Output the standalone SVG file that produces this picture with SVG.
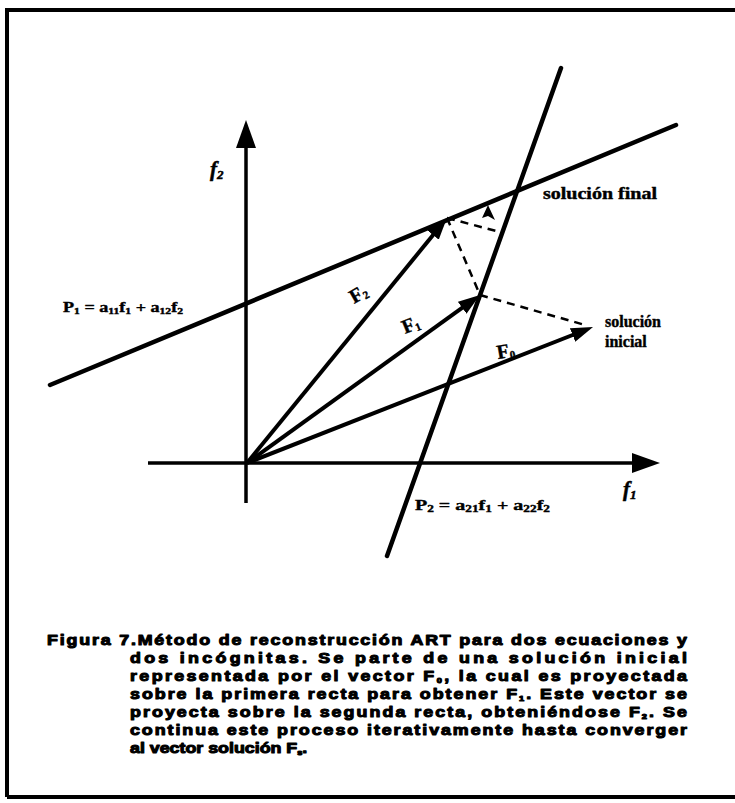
<svg xmlns="http://www.w3.org/2000/svg" width="735" height="803" viewBox="0 0 735 803">
<defs>
<marker id="ah" viewBox="0 0 12 8" refX="6" refY="4" markerWidth="5.5" markerHeight="3.7" markerUnits="strokeWidth" orient="auto">
<path d="M0,0 L12,4 L0,8 Z" fill="#000"/>
</marker>
</defs>
<style>
.ln{stroke:#000;stroke-width:4.5;fill:none;stroke-linecap:round}
.ax{stroke:#000;stroke-width:3.5;fill:none}
.vec{stroke:#000;stroke-width:4;fill:none}
.dash{stroke:#000;stroke-width:2.5;fill:none;stroke-dasharray:8 6}
.lbl{font-family:"Liberation Serif",serif;font-weight:bold;fill:#000;stroke:#000;stroke-width:0.4}
.ital{font-family:"Liberation Serif",serif;font-weight:bold;font-style:italic;fill:#000;stroke:#000;stroke-width:0.5}
.cap{font-family:"Liberation Sans",Arial,sans-serif;font-weight:bold;font-size:15.5px;fill:#000;stroke:#000;stroke-width:1.1;stroke-linejoin:round}
</style>
<rect width="735" height="803" fill="#fff"/>
<g id="frame">
<path d="M7,797 V10 H735" stroke="#000" stroke-width="4" fill="none"/>
<path d="M7,797 H735" stroke="#000" stroke-width="4" fill="none"/>
</g>
<g id="axes">
<line class="ax" x1="246" y1="503" x2="246" y2="146"/>
<polygon points="246,120 236,148 256,148" fill="#000"/>
<line class="ax" x1="148" y1="463" x2="634" y2="463"/>
<polygon points="660,463 632,453 632,473" fill="#000"/>
<text class="ital" x="210" y="176" font-size="21">f<tspan font-size="13" dy="3">2</tspan></text>
<text class="ital" x="623" y="496" font-size="21">f<tspan font-size="13" dy="3">1</tspan></text>
</g>
<g id="connectors">
<line class="ln" x1="50" y1="385" x2="676" y2="125"/>
<line class="ln" x1="387" y1="556" x2="561" y2="68"/>
<line class="vec" x1="247" y1="463" x2="582.8" y2="331" marker-end="url(#ah)"/>
<line class="vec" x1="247" y1="463" x2="471.1" y2="301.4" marker-end="url(#ah)"/>
<line class="vec" x1="247" y1="463" x2="440" y2="226.5" marker-end="url(#ah)"/>
<line class="dash" x1="480" y1="295" x2="585" y2="325"/>
<line class="dash" x1="447" y1="218" x2="480" y2="295"/>
<line class="dash" x1="447" y1="218" x2="500" y2="232"/>
<polygon points="488,205 482,218 488,216 495,220" fill="#000"/>
</g>
<g id="labels">
<text class="lbl" x="63" y="312" font-size="14" textLength="120" lengthAdjust="spacingAndGlyphs">P<tspan font-size="9" dy="2">1</tspan><tspan dy="-2"> = a</tspan><tspan font-size="9" dy="2">11</tspan><tspan dy="-2">f</tspan><tspan font-size="9" dy="2">1</tspan><tspan dy="-2"> + a</tspan><tspan font-size="9" dy="2">12</tspan><tspan dy="-2">f</tspan><tspan font-size="9" dy="2">2</tspan></text>
<text class="lbl" x="415" y="510" font-size="15" textLength="135" lengthAdjust="spacingAndGlyphs">P<tspan font-size="10" dy="2">2</tspan><tspan dy="-2"> = a</tspan><tspan font-size="10" dy="2">21</tspan><tspan dy="-2">f</tspan><tspan font-size="10" dy="2">1</tspan><tspan dy="-2"> + a</tspan><tspan font-size="10" dy="2">22</tspan><tspan dy="-2">f</tspan><tspan font-size="10" dy="2">2</tspan></text>
<text class="lbl" x="543" y="199" font-size="16" textLength="114" lengthAdjust="spacingAndGlyphs">solución final</text>
<text class="lbl" x="605" y="327" font-size="16">solución</text>
<text class="lbl" x="605" y="347" font-size="16">inicial</text>
<text class="lbl" font-size="20" transform="translate(498,359) rotate(-10)">F<tspan font-size="11" dy="2">0</tspan></text>
<text class="lbl" font-size="20" transform="translate(405,334) rotate(-22)">F<tspan font-size="11" dy="2">1</tspan></text>
<text class="lbl" font-size="20" transform="translate(354,304) rotate(-30)">F<tspan font-size="11" dy="2">2</tspan></text>
</g>
<g id="caption">
<text class="cap" transform="translate(47,645) scale(1.15,1)" textLength="556.5" lengthAdjust="spacing">Figura 7.Método de reconstrucción ART para dos ecuaciones y</text>
<text class="cap" transform="translate(130,663) scale(1.15,1)" textLength="484.3" lengthAdjust="spacing">dos  incógnitas.  Se  parte  de  una  solución  inicial</text>
<text class="cap" transform="translate(130,681) scale(1.15,1)" textLength="484.3" lengthAdjust="spacing">representada por el vector F<tspan font-size="8" dy="2">0</tspan><tspan dy="-2">, la  cual es proyectada</tspan></text>
<text class="cap" transform="translate(130,699) scale(1.15,1)" textLength="484.3" lengthAdjust="spacing">sobre la primera recta para  obtener F<tspan font-size="8" dy="2">1</tspan><tspan dy="-2">.  Este vector se</tspan></text>
<text class="cap" transform="translate(130,717) scale(1.15,1)" textLength="484.3" lengthAdjust="spacing">proyecta sobre la segunda recta, obteniéndose F<tspan font-size="8" dy="2">2</tspan><tspan dy="-2">.  Se</tspan></text>
<text class="cap" transform="translate(130,735) scale(1.15,1)" textLength="484.3" lengthAdjust="spacing">continua este  proceso iterativamente  hasta  converger</text>
<text class="cap" transform="translate(130,753) scale(1.15,1)">al vector solución F<tspan font-size="8" dy="2">s</tspan><tspan dy="-2">.</tspan></text>
</g>
</svg>
